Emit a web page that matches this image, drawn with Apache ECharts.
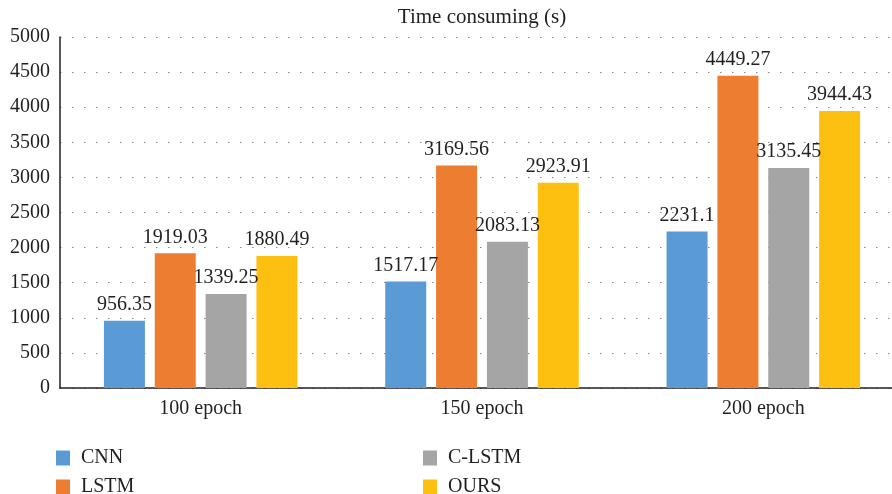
<!DOCTYPE html>
<html>
<head>
<meta charset="utf-8">
<script src="https://cdn.jsdelivr.net/npm/echarts@6/dist/echarts.min.js"></script>
<style>
  html, body { margin: 0; padding: 0; background: #fff; overflow: hidden; }
  /* plot area runs slightly past the right edge of the window */
  #chart { width: 904px; height: 494px; }
</style>
</head>
<body>
<div id="chart"></div>
<script>
// Training time per model for each epoch setting
const categories = ['100 epoch', '150 epoch', '200 epoch'];
const cnn = [956.35, 1517.17, 2231.1];
const lstm = [1919.03, 3169.56, 4449.27];
const clstm = [1339.25, 2083.13, 3135.45];
const ours = [1880.49, 2923.91, 3944.43];
const yTicks = [0, 500, 1000, 1500, 2000, 2500, 3000, 3500, 4000, 4500, 5000];

const seriesNames = ['CNN', 'LSTM', 'C-LSTM', 'OURS'];
const seriesData = [cnn, lstm, clstm, ours];
const colors = ['#5B9BD5', '#ED7D31', '#A5A5A5', '#FDC010'];

const FONT = '"Liberation Serif", "DejaVu Serif", serif';
const textStyle = { fontFamily: FONT, fontSize: 20, color: '#231f20' };

// Legend laid out as two columns of two rows
const legendSlots = [
  { name: 'CNN', left: 56, top: 448 },
  { name: 'LSTM', left: 56, top: 477 },
  { name: 'C-LSTM', left: 423, top: 448 },
  { name: 'OURS', left: 423, top: 477 }
];

const chart = echarts.init(document.getElementById('chart'), null, { renderer: 'canvas' });

chart.setOption({
  animation: false,
  color: colors,
  textStyle: { fontFamily: FONT },
  title: {
    text: 'Time consuming (s)',
    left: 477,
    textAlign: 'center',
    top: 2,
    textStyle: { fontFamily: FONT, fontSize: 21, fontWeight: 'normal', color: '#231f20' }
  },
  legend: legendSlots.map(s => ({
    data: [s.name],
    left: s.left,
    top: s.top,
    padding: 0,
    itemWidth: 14,
    itemHeight: 15,
    itemGap: 10,
    icon: 'rect',
    textStyle: { ...textStyle, padding: [0, 0, 0, 6] }
  })),
  grid: { left: 60, right: 0, top: 37, bottom: 106, containLabel: false },
  xAxis: {
    type: 'category',
    data: categories,
    axisLine: { lineStyle: { color: '#231f20', width: 1.5 } },
    axisTick: { show: false },
    axisLabel: { ...textStyle, margin: 11 }
  },
  yAxis: {
    type: 'value',
    min: yTicks[0],
    max: yTicks[yTicks.length - 1],
    interval: yTicks[1] - yTicks[0],
    axisLine: { show: true, lineStyle: { color: '#231f20', width: 1.5 } },
    axisTick: { show: false },
    axisLabel: { ...textStyle, margin: 10, formatter: v => String(v) },
    splitLine: { lineStyle: { color: '#8a8a8a', width: 1.2, type: [1.5, 10.5] } }
  },
  series: seriesNames.map((name, i) => ({
    name: name,
    type: 'bar',
    data: seriesData[i],
    barWidth: 41,
    barGap: '24%',
    label: {
      show: true,
      position: 'top',
      distance: 6,
      ...textStyle
    }
  }))
});
</script>
</body>
</html>
